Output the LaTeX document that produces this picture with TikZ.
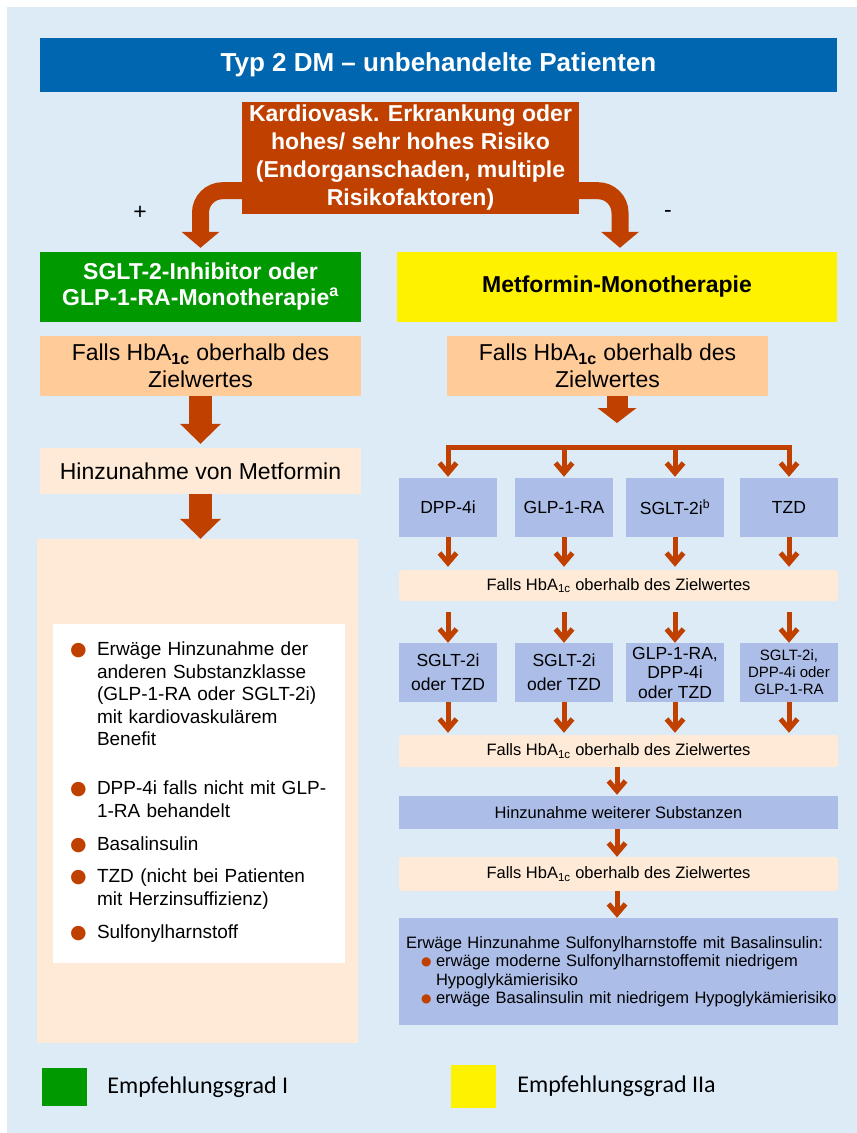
\documentclass[tikz,border=0pt]{standalone}
\usepackage{fontspec}
\usetikzlibrary{arrows.meta,positioning}
\setmainfont{Liberation Sans}
\newfontfamily\legendfont{Carlito}
\newfontfamily\dotfont{DejaVu Sans}
\definecolor{bgblue}{RGB}{221,235,247}
\definecolor{titleblue}{RGB}{0,102,176}
\definecolor{rust}{RGB}{192,64,0}
\definecolor{recgreen}{RGB}{0,153,0}
\definecolor{peach}{RGB}{255,204,153}
\definecolor{lightpeach}{RGB}{254,234,214}
\definecolor{lavender}{RGB}{172,190,232}
\newcommand{\setfs}[2]{\fontsize{#1}{#2}\selectfont}
\newcommand{\bigdot}{{\setfs{19}{19}\dotfont\textcolor{rust}{●}}}
\newcommand{\smalldot}{\raisebox{1.5pt}{\setfs{12}{12}\dotfont\textcolor{rust}{●}}}
\newcommand{\bitem}{\par\noindent\hangindent=32pt\hangafter=1\makebox[32pt][l]{\hspace*{5pt}\bigdot}}
\newcommand{\sitem}{\par\noindent\hangindent=36pt\hangafter=1\hspace*{21pt}\makebox[15pt][l]{\smalldot}}

\begin{document}
\begin{tikzpicture}[x=1pt,y=-1pt,
    every node/.style={inner sep=0pt,font=\setfs{23}{27}},
    headbar/.style={fill=titleblue,text=white,font=\bfseries\setfs{26}{30}},
    riskbox/.style={fill=rust,text=white,align=center,font=\bfseries\setfs{23}{28}},
    gradeI/.style={fill=recgreen,text=white,align=center,font=\bfseries\setfs{23}{26}},
    gradeIIa/.style={fill=yellow,font=\bfseries\setfs{23}{26}},
    peachbox/.style={fill=peach,align=center},
    softbox/.style={fill=lightpeach},
    strip/.style={fill=lightpeach,rounded corners=3pt,minimum width=439pt,font=\setfs{16.5}{19}},
    drug/.style={fill=lavender,align=center,minimum width=98pt,minimum height=59pt,font=\setfs{17.5}{24}},
    lavbar/.style={fill=lavender,minimum width=439pt,font=\setfs{16.5}{18.5}},
    fatarrow/.style={draw=rust,line width=23pt,-{Triangle[length=20pt,width=41pt,line width=0pt]}},
    splitarrow/.style={draw=rust,line width=21pt,-{Triangle[length=15pt,width=39pt,line width=0pt]}},
    bendarrow/.style={draw=rust,line width=17pt,rounded corners=22pt,-{Triangle[length=16pt,width=38pt,line width=0pt]}},
    barb/.style={draw=rust,line width=5pt,-{Straight Barb[length=10pt,width=17pt]}}]
    % Background
    \useasboundingbox (0,0) rectangle (857,1133);
    \fill[bgblue] (7,7) rectangle (857,1133);
    % Header
    \node[headbar,minimum width=797pt,minimum height=54pt] (title) at (438.5,65) {Typ 2 DM – unbehandelte Patienten};
    % Risk question and the two branches
    \node[riskbox,minimum width=337pt,minimum height=112pt] (risk) at (410.5,158) {Kardiovask. Erkrankung oder\\hohes/ sehr hohes Risiko\\(Endorganschaden, multiple\\Risikofaktoren)};
    \node (plus) at (140,213) {+};
    \node (minus) at (668,214) {-};
    \node[gradeI,minimum width=321pt,minimum height=70pt] (sglt) at (200.5,287) {SGLT-2-Inhibitor oder\\GLP-1-RA-Monotherapie\textsuperscript{a}};
    \node[gradeIIa,minimum width=440pt,minimum height=70pt] (metf) at (617,287) {Metformin-Monotherapie};
    \draw[bendarrow] ([yshift=23.5pt]risk.south west) -| ([yshift=4pt]sglt.north);
    \draw[bendarrow] ([yshift=23.5pt]risk.south east) -| ([xshift=3pt,yshift=4pt]metf.north);
    % Left column
    \node[peachbox,minimum width=321pt,minimum height=60pt] (hbaL) at (200.5,366) {Falls HbA\textsubscript{\textbf{1c}} oberhalb des\\Zielwertes};
    \node[softbox,minimum width=321pt,minimum height=46pt] (metL) at (200.5,471) {Hinzunahme von Metformin};
    \node[softbox,minimum width=321pt,minimum height=504pt] (addL) at (197.5,791) {};
    \node[fill=white,minimum width=292pt,minimum height=339pt,inner xsep=12pt,text width=268pt,align=left,font=\setfs{19}{22.5}] (options) at (199,793.5) {\bitem Erwäge Hinzunahme der\newline anderen Substanzklasse\newline (GLP-1-RA oder SGLT-2i)\newline mit kardiovaskulärem\newline Benefit\par\vspace{26.5pt}\bitem DPP-4i falls nicht mit GLP-\newline 1-RA behandelt\par\vspace{10.5pt}\bitem Basalinsulin\par\vspace{10pt}\bitem TZD (nicht bei Patienten\newline mit Herzinsuffizienz)\par\vspace{10.5pt}\bitem Sulfonylharnstoff\par\vspace{12pt}\hrule height 0pt depth 0pt};
    \draw[fatarrow] (hbaL.south) -- ([yshift=4pt]metL.north);
    \draw[fatarrow] (metL.south) -- (metL.south |- addL.north);
    % Right column
    \node[peachbox,minimum width=321pt,minimum height=60pt] (hbaR) at (607.5,366) {Falls HbA\textsubscript{\textbf{1c}} oberhalb des\\Zielwertes};
    \coordinate (hub) at (617,447);
    \node[drug] (dpp) at (448,507.5) {DPP-4i};
    \node[drug] (glp) at (564,507.5) {GLP-1-RA};
    \node[drug] (sgl) at (675,507.5) {SGLT-2i\textsuperscript{b}};
    \node[drug] (tzd) at (789,507.5) {TZD};
    \node[strip,minimum height=31pt] (hbaA) at (618.5,585.5) {Falls HbA\textsubscript{1c} oberhalb des Zielwertes};
    \node[drug] (dpp2) at (448,672.5) {SGLT-2i\\oder TZD};
    \node[drug] (glp2) at (564,672.5) {SGLT-2i\\oder TZD};
    \node[drug,font=\setfs{17.5}{19.5}] (sgl2) at (675,672.5) {GLP-1-RA,\\DPP-4i\\oder TZD};
    \node[drug,font=\setfs{15}{17}] (tzd2) at (789,672.5) {SGLT-2i,\\DPP-4i oder\\GLP-1-RA};
    \node[strip,minimum height=32pt] (hbaB) at (618.5,751) {Falls HbA\textsubscript{1c} oberhalb des Zielwertes};
    \node[lavbar,minimum height=33pt] (more) at (618.5,812.5) {Hinzunahme weiterer Substanzen};
    \node[strip,minimum height=34pt] (hbaC) at (618.5,874) {Falls HbA\textsubscript{1c} oberhalb des Zielwertes};
    \node[lavbar,minimum height=107pt,inner xsep=1pt,text width=437pt,align=left] (final) at (618.5,971.5) {\noindent\hspace*{6pt}Erwäge Hinzunahme Sulfonylharnstoffe mit Basalinsulin:\sitem erwäge moderne Sulfonylharnstoffemit niedrigem\newline Hypoglykämierisiko\sitem erwäge Basalinsulin mit niedrigem Hypoglykämierisiko};
    \draw[splitarrow] (hub |- hbaR.south) -- ([yshift=24pt]hub);
    \draw[barb] (hub) -| ([yshift=1pt]dpp.north);
    \draw[barb] (hub) -| ([yshift=1pt]glp.north);
    \draw[barb] (hub) -| ([yshift=1pt]sgl.north);
    \draw[barb] (hub) -| ([yshift=1pt]tzd.north);
    \draw[barb,shorten >=3pt] (dpp.south) -- (dpp.south |- hbaA.north);
    \draw[barb,shorten >=3pt] (glp.south) -- (glp.south |- hbaA.north);
    \draw[barb,shorten >=3pt] (sgl.south) -- (sgl.south |- hbaA.north);
    \draw[barb,shorten >=3pt] (tzd.south) -- (tzd.south |- hbaA.north);
    \draw[barb,shorten <=11pt] (hbaA.south -| dpp2.north) -- (dpp2.north);
    \draw[barb,shorten <=11pt] (hbaA.south -| glp2.north) -- (glp2.north);
    \draw[barb,shorten <=11pt] (hbaA.south -| sgl2.north) -- (sgl2.north);
    \draw[barb,shorten <=11pt] (hbaA.south -| tzd2.north) -- (tzd2.north);
    \draw[barb,shorten >=2pt] (dpp2.south) -- (dpp2.south |- hbaB.north);
    \draw[barb,shorten >=2pt] (glp2.south) -- (glp2.south |- hbaB.north);
    \draw[barb,shorten >=2pt] (sgl2.south) -- (sgl2.south |- hbaB.north);
    \draw[barb,shorten >=2pt] (tzd2.south) -- (tzd2.south |- hbaB.north);
    \draw[barb,shorten >=1pt] (hbaB.south -| hub) -- (more.north -| hub);
    \draw[barb] (more.south -| hub) -- (hbaC.north -| hub);
    \draw[barb] (hbaC.south -| hub) -- (final.north -| hub);
    % Legend
    \node[fill=recgreen,minimum width=45pt,minimum height=38pt] (keyI) at (64.5,1087) {};
    \node[right=20pt of keyI,font=\legendfont\setfs{24}{28}] (keyItext) {Empfehlungsgrad I};
    \node[fill=yellow,minimum width=45pt,minimum height=43pt] (keyIIa) at (473.5,1086.5) {};
    \node[right=21pt of keyIIa,font=\legendfont\setfs{24}{28}] (keyIIatext) {Empfehlungsgrad IIa};
\end{tikzpicture}
\end{document}
